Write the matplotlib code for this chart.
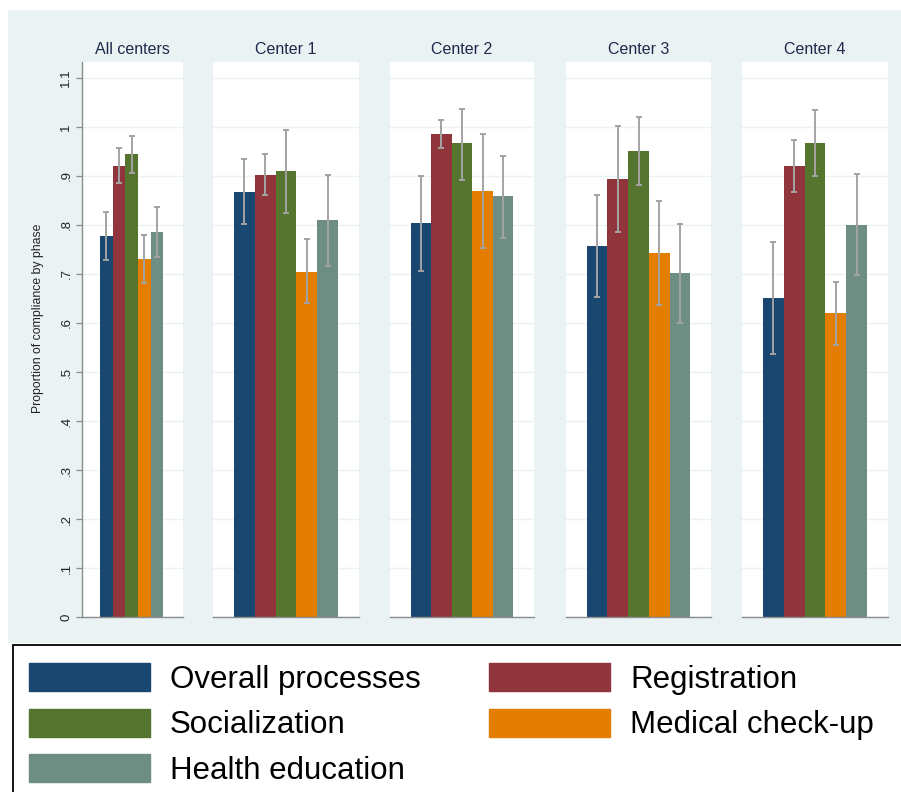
import numpy as np
import matplotlib.pyplot as plt
from matplotlib.patches import Patch, Rectangle

plt.rcParams['font.family'] = ['Liberation Sans', 'DejaVu Sans']

groups = ["All centers", "Center 1", "Center 2", "Center 3", "Center 4"]
phases = ["Overall processes", "Registration", "Socialization",
          "Medical check-up", "Health education"]
colors = ["#1a476f", "#90353b", "#55752f", "#e37e00", "#6e8e84"]

# means per phase, one value per group
overall = [0.777, 0.867, 0.803, 0.757, 0.650]
registration = [0.921, 0.902, 0.986, 0.894, 0.920]
socialization = [0.945, 0.909, 0.966, 0.951, 0.967]
medical = [0.730, 0.704, 0.869, 0.742, 0.620]
health = [0.785, 0.809, 0.858, 0.702, 0.800]

# confidence limits
overall_lo = [0.728, 0.801, 0.705, 0.654, 0.536]
overall_hi = [0.826, 0.934, 0.900, 0.861, 0.765]
registration_lo = [0.885, 0.860, 0.957, 0.786, 0.867]
registration_hi = [0.957, 0.945, 1.014, 1.002, 0.973]
socialization_lo = [0.906, 0.825, 0.892, 0.881, 0.900]
socialization_hi = [0.982, 0.993, 1.036, 1.019, 1.034]
medical_lo = [0.682, 0.640, 0.752, 0.636, 0.555]
medical_hi = [0.779, 0.771, 0.986, 0.848, 0.684]
health_lo = [0.735, 0.716, 0.774, 0.601, 0.698]
health_hi = [0.836, 0.901, 0.940, 0.802, 0.903]

ytick_vals = [0, .1, .2, .3, .4, .5, .6, .7, .8, .9, 1, 1.1]
ytick_labels = ["0", ".1", ".2", ".3", ".4", ".5", ".6", ".7", ".8", ".9", "1", "1.1"]

means = np.array([overall, registration, socialization, medical, health])
lows = np.array([overall_lo, registration_lo, socialization_lo, medical_lo, health_lo])
highs = np.array([overall_hi, registration_hi, socialization_hi, medical_hi, health_hi])

W, H = 901, 792
fig = plt.figure(figsize=(W / 100, H / 100), dpi=100)
fig.patch.set_facecolor("white")

bg = "#eaf2f3"
fig.add_artist(Rectangle((8 / W, 1 - 643 / H), (W - 8) / W, (643 - 10) / H,
                         transform=fig.transFigure, facecolor=bg,
                         edgecolor="none", zorder=-2))
fig.add_artist(Rectangle((13 / W, -0.05), 1.0, 1 - 645 / H + 0.05,
                         transform=fig.transFigure, facecolor="white",
                         edgecolor="black", lw=1.3, zorder=-1, clip_on=False))

# panel edges in pixels
panels = [(82, 183), (213, 359), (390, 534), (566, 711), (742, 888)]
top, bottom = 62, 617.3
ymax = (bottom - top) / 490.5

x = np.arange(len(phases))
for gi, (x0, x1) in enumerate(panels):
    ax = fig.add_axes([x0 / W, 1 - bottom / H, (x1 - x0) / W, (bottom - top) / H])
    ax.set_facecolor("white")
    for pi in range(len(phases)):
        ax.bar(x[pi], means[pi, gi], width=1.0, color=colors[pi], zorder=2)
        ax.errorbar(x[pi], means[pi, gi],
                    yerr=[[means[pi, gi] - lows[pi, gi]], [highs[pi, gi] - means[pi, gi]]],
                    fmt="none", ecolor="#a3a3a3", elinewidth=1.4, capsize=2.5,
                    capthick=1.4, zorder=3)
    if gi == 0:
        ax.set_xlim(-0.5 - 1.42, 4.5 + 1.57)
    else:
        ax.set_xlim(-1.5, 5.5)
    ax.set_ylim(0, ymax)
    ax.set_yticks(ytick_vals)
    ax.yaxis.grid(True, color=bg, lw=1.0, zorder=0)
    ax.set_axisbelow(True)
    ax.set_xticks([])
    for s in ["top", "right"]:
        ax.spines[s].set_visible(False)
    ax.spines["bottom"].set_color("#8c8c8c")
    ax.spines["bottom"].set_linewidth(1.0)
    if gi == 0:
        ax.set_yticklabels(ytick_labels, rotation=90, va="center", fontsize=9.5)
        ax.tick_params(axis="y", length=4, width=0.9, color="#8c8c8c", pad=3,
                       labelcolor="#222222")
        ax.spines["left"].set_color("#8c8c8c")
        ax.spines["left"].set_linewidth(1.0)
    else:
        ax.spines["left"].set_visible(False)
        ax.tick_params(axis="y", left=False, labelleft=False)
    ax.set_title(groups[gi], fontsize=11.5, color="#1e2a4c", pad=6)

fig.text(38 / W, 1 - 318 / H, "Proportion of compliance by phase", rotation=90,
         ha="center", va="center", fontsize=8.8, color="#222222")

handles = [Patch(facecolor=c, edgecolor=c) for c in colors]
order = [0, 2, 4, 1, 3]
fig.legend([handles[i] for i in order], [phases[i] for i in order],
           loc="upper left", bbox_to_anchor=(29 / W, 1 - 663 / H), ncol=2,
           frameon=False, fontsize=22.5, handlelength=3.87, handleheight=1.0,
           handletextpad=0.64, labelspacing=0.445, columnspacing=2.2,
           borderpad=0, borderaxespad=0)

fig.savefig("out.png", dpi=100)
